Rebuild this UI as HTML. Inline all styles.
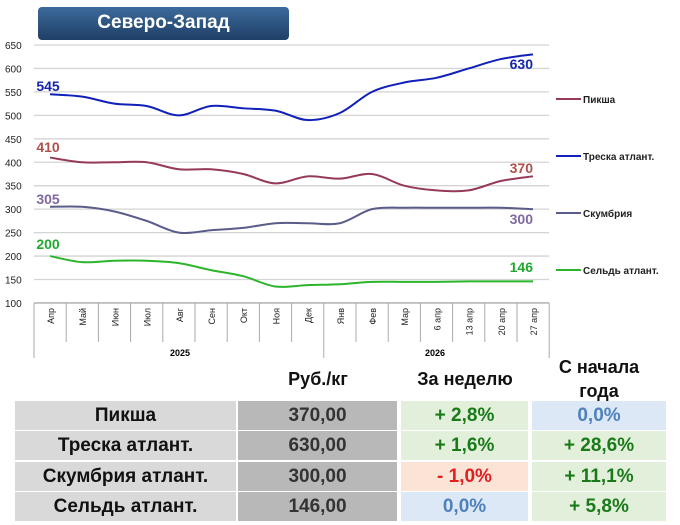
<!DOCTYPE html>
<html><head><meta charset="utf-8"><style>
body{margin:0;width:680px;height:525px;background:#fff;overflow:hidden;font-family:"Liberation Sans",sans-serif;position:relative}
.title{position:absolute;left:38px;top:7px;width:251px;height:33px;border-radius:4px;background:linear-gradient(#3c6a9c,#1f3f66);color:#fff;font-weight:bold;font-size:19px;text-align:center;line-height:32px}
.h{position:absolute;font-weight:bold;font-size:18px;color:#111;text-align:center}
.c{position:absolute;font-weight:bold;font-size:19px;text-align:center;line-height:29px;height:29px}
</style></head><body>
<svg id="s" width="680" height="360" style="position:absolute;left:0;top:0" font-family="Liberation Sans, sans-serif"></svg>
<div class="title">Северо-Запад</div>
<div class="h" style="left:238px;width:160px;top:369px">Руб./кг</div>
<div class="h" style="left:401px;width:128px;top:369px">За неделю</div>
<div class="h" style="left:532px;width:134px;top:355px;line-height:24px">С начала<br>года</div>
<div id="t"></div>
<script>
const s=document.getElementById('s');let h='';
const y=v=>45+(650-v)*0.469, x=i=>50+32.2*i;
for(let v=100;v<=650;v+=50){h+=`<line x1="34" x2="549" y1="${y(v)}" y2="${y(v)}" stroke="${v==100?'#aaa':'#d4d4d4'}" stroke-width="1.3"/><text x="5" y="${y(v)+4}" font-size="10" fill="#222">${v}</text>`;}
const mon=['Апр','Май','Июн','Июл','Авг','Сен','Окт','Ноя','Дек','Янв','Фев','Мар','6 апр','13 апр','20 апр','27 апр'];
for(let i=0;i<=16;i++){const xx=34+32.2*i;h+=`<line x1="${xx}" x2="${xx}" y1="303" y2="${(i==0||i==9||i==16)?358:342}" stroke="#aaa"/>`;}
mon.forEach((m,i)=>{h+=`<text transform="translate(${x(i)+4},308) rotate(-90)" text-anchor="end" font-size="9" fill="#222">${m}</text>`});
h+=`<text x="180" y="356" font-size="9" font-weight="bold" text-anchor="middle">2025</text><text x="435" y="356" font-size="9" font-weight="bold" text-anchor="middle">2026</text>`;
function path(d){let p=d.map((v,i)=>[x(i),y(v)]);let r=`M${p[0]}`;for(let i=0;i<p.length-1;i++){const a=p[i-1]||p[i],b=p[i],c=p[i+1],e=p[i+2]||c;r+=`C${b[0]+(c[0]-a[0])/6},${b[1]+(c[1]-a[1])/6} ${c[0]-(e[0]-b[0])/6},${c[1]-(e[1]-b[1])/6} ${c[0]},${c[1]}`;}return r;}
const S=[[ [545,540,525,520,500,520,515,510,490,505,550,570,580,600,620,630],'#1020b8'],
[[410,400,400,400,385,385,375,355,370,365,375,350,340,340,360,370],'#953a5c'],
[[305,305,295,275,250,255,260,270,270,270,300,303,303,303,303,300],'#5a5c8a'],
[[200,187,190,190,185,170,157,135,138,140,145,145,145,146,146,146],'#2cb52c']];
S.forEach(([d,c])=>h+=`<path d="${path(d)}" fill="none" stroke="${c}" stroke-width="2"/>`);
const L=[['545',48,91,'#1424b0','630',533,69],['410',48,152,'#b0504a','370',533,173],['305',48,204,'#8068a0','300',533,224],['200',48,249,'#20a830','146',533,272]];
L.forEach(l=>{h+=`<text x="${l[1]}" y="${l[2]}" font-size="14" font-weight="bold" fill="${l[3]}" text-anchor="middle">${l[0]}</text><text x="${l[5]}" y="${l[6]}" font-size="14" font-weight="bold" fill="${l[3]}" text-anchor="end">${l[4]}</text>`});
[['Пикша',99,'#953a5c'],['Треска атлант.',156,'#1020b8'],['Скумбрия',213,'#5a5c8a'],['Сельдь атлант.',270,'#2cb52c']].forEach(g=>{h+=`<line x1="556" x2="581" y1="${g[1]}" y2="${g[1]}" stroke="${g[2]}" stroke-width="2"/><text x="583" y="${g[1]+4}" font-size="10" font-weight="bold" fill="#222">${g[0]}</text>`});
s.innerHTML=h;
const rows=[['Пикша','370,00',['+ 2,8%','#e2efda','#1a7a1a'],['0,0%','#dce8f5','#4f81bd']],
['Треска атлант.','630,00',['+ 1,6%','#e2efda','#1a7a1a'],['+ 28,6%','#e2efda','#1a7a1a']],
['Скумбрия атлант.','300,00',['- 1,0%','#fbe3d6','#e02020'],['+ 11,1%','#e2efda','#1a7a1a']],
['Сельдь атлант.','146,00',['0,0%','#dce8f5','#4f81bd'],['+ 5,8%','#e2efda','#1a7a1a']]];
let t='';rows.forEach((r,i)=>{const top=401+i*30.3;
t+=`<div class="c" style="left:15px;width:221px;top:${top}px;background:#d9d9d9;color:#111">${r[0]}</div>`;
t+=`<div class="c" style="left:238px;width:159px;top:${top}px;background:#b8b8b8;color:#333">${r[1]}</div>`;
t+=`<div class="c" style="left:401px;width:127px;top:${top}px;background:${r[2][1]};color:${r[2][2]}">${r[2][0]}</div>`;
t+=`<div class="c" style="left:532px;width:134px;top:${top}px;background:${r[3][1]};color:${r[3][2]}">${r[3][0]}</div>`;});
document.getElementById('t').innerHTML=t;
</script>
</body></html>
